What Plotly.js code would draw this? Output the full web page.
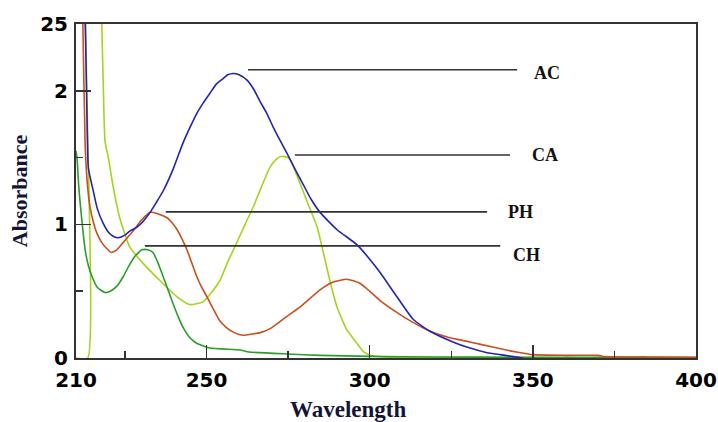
<!DOCTYPE html>
<html>
<head>
<meta charset="utf-8">
<script src="https://cdn.plot.ly/plotly-3.0.1.min.js"></script>
<style>html,body{margin:0;padding:0;background:#fff}#chart{width:718px;height:422px}</style>
</head>
<body>
<div id="chart"></div>
<script>
// AC (blue)
const acX = [211.5,212.8,213.3,213.8,215.2,216.5,218.3,220,221.5,223,225,226.5,228.7,230.5,232.7,234.5,236.7,239.7,242.8,245,247,249,251,253,255,256.5,258.1,260,262.4,264.5,266.4,268.5,270.4,272.5,274.7,277,279.6,282,284.8,290,296,300,303.2,308.3,313.3,318.5,325.5,330,336,340,344,347];
const acY = [3.0,2.5,1.9,1.42,1.26,1.12,1.01,0.94,0.91,0.90,0.92,0.95,0.98,1.02,1.09,1.16,1.25,1.41,1.61,1.73,1.83,1.91,1.98,2.05,2.09,2.12,2.13,2.12,2.08,2.01,1.92,1.83,1.73,1.63,1.53,1.42,1.30,1.19,1.09,0.96,0.85,0.74,0.64,0.46,0.29,0.20,0.12,0.08,0.04,0.025,0.01,0.0];
// CA (yellow-green)
const caX = [210,213.6,213.9,217.5,217.9,218.4,218.9,219.9,221.4,223.5,226.5,230.5,235.7,240.9,244.9,248.9,251.5,254.1,256.5,259.2,261.8,264.3,267,269.5,271.5,273,275,276.5,278.6,281,283.9,285.5,287.8,290,293,296.1,298,300.1,305,330,360,400];
const caY = [0.0,0.0,3.0,3.0,2.5,2.0,1.62,1.50,1.28,1.04,0.83,0.71,0.58,0.46,0.40,0.42,0.49,0.58,0.72,0.86,1.00,1.13,1.29,1.43,1.49,1.51,1.50,1.44,1.31,1.16,0.98,0.82,0.58,0.38,0.21,0.11,0.05,0.02,0.006,0.004,0.003,0.003];
// PH (red)
const phX = [211.5,212.1,212.8,213.5,214.3,215.3,216.3,218,219.8,220.8,222.5,225,227.5,230,232.7,235,237.9,239.5,241,242.5,244,245.5,247,248.5,250.1,252,254,256,258.5,261.2,264,266.5,269.5,274,278.6,284.8,289,293,297,300,303.2,308.4,313,318.5,324,330.7,338,345,350,360,370,372,385,400];
const phY = [3.0,2.5,1.6,1.3,1.13,1.02,0.94,0.86,0.81,0.79,0.81,0.88,0.95,1.03,1.09,1.08,1.05,1.01,0.96,0.89,0.81,0.71,0.61,0.53,0.46,0.37,0.28,0.23,0.19,0.17,0.18,0.19,0.22,0.30,0.38,0.51,0.57,0.59,0.56,0.50,0.43,0.34,0.27,0.20,0.155,0.12,0.08,0.045,0.025,0.02,0.02,0.01,0.008,0.005];
// CH (green)
const chX = [210,210.3,210.8,211.2,212,212.8,213.8,214.9,216.5,218.9,220.5,222.6,224.5,226,228,230.2,232,233.6,235,236.7,238.2,239.7,241.3,242.8,245,247,251,260.3,263,274.7,285,300,320,345,400];
const chY = [1.55,1.50,1.30,1.18,0.98,0.81,0.69,0.61,0.53,0.49,0.50,0.54,0.61,0.68,0.76,0.81,0.81,0.79,0.72,0.61,0.51,0.41,0.31,0.23,0.15,0.11,0.075,0.06,0.045,0.03,0.02,0.012,0.008,0.005,0.003];

// labels and their leader lines
const labelNames = ['AC','CA','PH','CH'];
const leaderStart = [262.7,277.1,237.5,231.1];
const leaderEnd = [345.2,343.0,336.0,340.0];
const leaderLevel = [2.157,1.52,1.094,0.839];
const labelX = [354.3,353.7,346.1,348.2];
const labelY = [2.135,1.52,1.094,0.77];

const xTickVals = [210,250,300,350,400];
const xTickText = ['210','250','300','350','400'];
const xMinor = [225,275,325,375];
const yTickVals = [0,1,2,2.5];
const yTickText = ['0','1','2','25'];
const yMinor = [0.5,1.5];

const mk = (x,y,color) => ({x:x,y:y,type:'scatter',mode:'lines',line:{color:color,width:1.6,shape:'spline',smoothing:0.5},hoverinfo:'skip',showlegend:false});
const traces = [
  mk(caX,caY,'#a6d41e'),
  mk(chX,chY,'#2a9e2a'),
  mk(phX,phY,'#c8501e'),
  mk(acX,acY,'#2424b0')
];

const shapes = labelNames.map((n,i)=>({type:'line',xref:'x',yref:'y',x0:leaderStart[i],x1:leaderEnd[i],y0:leaderLevel[i],y1:leaderLevel[i],line:{color:'#333',width:1.6}}));
const annotations = labelNames.map((n,i)=>({x:labelX[i],y:labelY[i],xref:'x',yref:'y',text:'<b>'+n+'</b>',showarrow:false,xanchor:'center',yanchor:'middle',font:{family:'Liberation Serif',size:18,color:'#111'}}));
annotations.push({xref:'paper',yref:'paper',x:0.439,y:-0.153,xanchor:'center',yanchor:'middle',showarrow:false,
  text:'<b>Wavelength</b>',font:{family:'Liberation Serif',size:23,color:'#141438'}});

const layout = {
  width:718,height:422,
  margin:{l:76,r:22,t:24,b:64},
  paper_bgcolor:'#fff',plot_bgcolor:'#fff',
  xaxis:{range:[210,400],tickmode:'array',tickvals:xTickVals,ticktext:xTickText,ticks:'inside',ticklen:13,tickwidth:1.5,tickcolor:'#333',
    minor:{tickmode:'array',tickvals:xMinor,ticks:'inside',ticklen:7,tickwidth:1.5,tickcolor:'#333'},
    showgrid:false,zeroline:false,showline:true,mirror:true,linecolor:'#333',linewidth:2,
    tickfont:{family:'DejaVu Sans',size:20,color:'#000',weight:'bold'},ticklabelstandoff:3},
  yaxis:{range:[0,2.5],tickmode:'array',tickvals:yTickVals,ticktext:yTickText,ticks:'inside',ticklen:15,tickwidth:1.5,tickcolor:'#333',
    minor:{tickmode:'array',tickvals:yMinor,ticks:'inside',ticklen:7,tickwidth:1.5,tickcolor:'#333'},
    showgrid:false,zeroline:false,showline:true,mirror:true,linecolor:'#333',linewidth:2,
    tickfont:{family:'DejaVu Sans',size:20,color:'#000',weight:'bold'},ticklabelstandoff:2,
    title:{text:'<b>Absorbance</b>',font:{family:'Liberation Serif',size:22,color:'#141438'},standoff:6}},
  shapes:shapes,annotations:annotations
};
Plotly.newPlot('chart',traces,layout,{staticPlot:true,displayModeBar:false});
</script>
</body>
</html>
